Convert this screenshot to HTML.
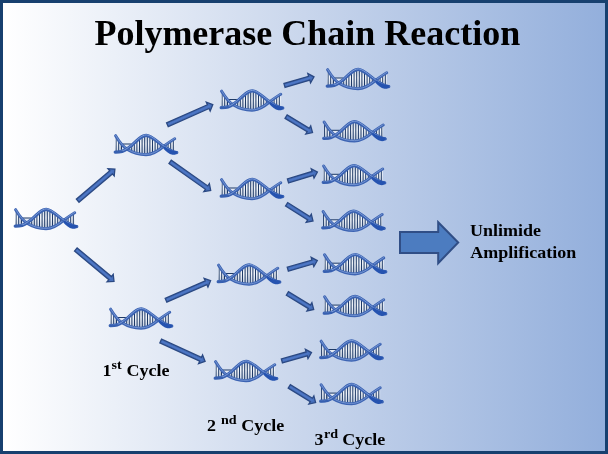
<!DOCTYPE html>
<html><head><meta charset="utf-8"><style>
html,body{margin:0;padding:0;width:608px;height:454px;overflow:hidden;background:#17406f}
svg{display:block;will-change:transform}
</style></head><body>
<svg width="608" height="454" viewBox="0 0 608 454">
<defs>
<linearGradient id="bg" x1="0" y1="0" x2="1" y2="0">
<stop offset="0" stop-color="#ffffff"/><stop offset="0.5" stop-color="#c9d6ec"/><stop offset="1" stop-color="#93afdc"/>
</linearGradient>
<linearGradient id="ag" x1="0" y1="0" x2="0" y2="1">
<stop offset="0" stop-color="#4a70bb"/><stop offset="1" stop-color="#3d62aa"/>
</linearGradient>
<symbol id="dna" viewBox="0 0 64 22" overflow="visible">
<linearGradient id="rg" x1="0" y1="0" x2="0" y2="1"><stop offset="0" stop-color="#cdd8e8"/><stop offset="0.45" stop-color="#f2f5fa"/><stop offset="1" stop-color="#bccadf"/></linearGradient>
<clipPath id="lc"><path d="M1.6,1.7 C4.5,6.5 8.5,12.5 13.5,15.6 C19,19 25,20.7 32,20.7 C38.5,20.7 43.5,17.5 49.5,12.5 C53,9.8 57,6.8 60.7,4.7 L60.7,18.5 C58,18.5 53,14.6 47.5,10.7 C42,6.5 36.5,1.3 32.3,1.3 C28,1.3 23,6.2 17.5,11.5 C16.5,12.3 15,13.3 12.95,14.9 C9.5,17.5 5,18.2 1.2,18.1 Z"/></clipPath>
<g clip-path="url(#lc)"><rect x="0" y="0" width="64" height="22" fill="url(#rg)"/>
<g stroke="#1d3966" stroke-width="1.0"><line x1="2.10" y1="0" x2="2.10" y2="22"/><line x1="4.70" y1="0" x2="4.70" y2="22"/><line x1="7.30" y1="0" x2="7.30" y2="22"/><line x1="9.90" y1="0" x2="9.90" y2="22"/><line x1="12.50" y1="0" x2="12.50" y2="22"/><line x1="15.10" y1="0" x2="15.10" y2="22"/><line x1="17.70" y1="0" x2="17.70" y2="22"/><line x1="20.30" y1="0" x2="20.30" y2="22"/><line x1="22.90" y1="0" x2="22.90" y2="22"/><line x1="25.50" y1="0" x2="25.50" y2="22"/><line x1="28.10" y1="0" x2="28.10" y2="22"/><line x1="30.70" y1="0" x2="30.70" y2="22"/><line x1="33.30" y1="0" x2="33.30" y2="22"/><line x1="35.90" y1="0" x2="35.90" y2="22"/><line x1="38.50" y1="0" x2="38.50" y2="22"/><line x1="41.10" y1="0" x2="41.10" y2="22"/><line x1="43.70" y1="0" x2="43.70" y2="22"/><line x1="46.30" y1="0" x2="46.30" y2="22"/><line x1="48.90" y1="0" x2="48.90" y2="22"/><line x1="51.50" y1="0" x2="51.50" y2="22"/><line x1="54.10" y1="0" x2="54.10" y2="22"/><line x1="56.70" y1="0" x2="56.70" y2="22"/><line x1="59.30" y1="0" x2="59.30" y2="22"/></g></g>
<path d="M7.5,15.5 V11 Q7.5,10 8.7,10 H16.8 Q17.9,10 17.9,11 V13" fill="#e3e9f3" stroke="#1d3966" stroke-width="1.0"/>
<path d="M1.6,1.7 C4.5,6.5 8.5,12.5 13.5,15.6 C19,19 25,20.7 32,20.7 C38.5,20.7 43.5,17.5 49.5,12.5 C53,9.8 57,6.8 60.7,4.7" fill="none" stroke="#3d64b3" stroke-width="3.0" stroke-linecap="round"/>
<path d="M1.6,1.7 C4.5,6.5 8.5,12.5 13.5,15.6 C19,19 25,20.7 32,20.7 C38.5,20.7 43.5,17.5 49.5,12.5 C53,9.8 57,6.8 60.7,4.7" fill="none" stroke="#7898d4" stroke-width="0.9" stroke-linecap="round" transform="translate(0,-0.35)"/>
<path d="M1.2,18.1 C5,18.2 9.5,17.5 12.95,14.9 C15,13.3 16.5,12.3 17.5,11.5 C23,6.2 28,1.3 32.3,1.3 C36.5,1.3 42,6.5 47.5,10.7 C53,14.6 57.5,18.3 62.8,18.7" fill="none" stroke="#3a62b2" stroke-width="3.2" stroke-linecap="round"/>
<path d="M1.2,18.1 C5,18.2 9.5,17.5 12.95,14.9 C15,13.3 16.5,12.3 17.5,11.5 C23,6.2 28,1.3 32.3,1.3 C36.5,1.3 42,6.5 47.5,10.7 C53,14.6 57.5,18.3 62.8,18.7" fill="none" stroke="#7b9bd8" stroke-width="1.0" stroke-linecap="round" transform="translate(0,-0.4)"/>
<path d="M50,12.2 C54,15 58,17 63.6,17.2 C63.4,19.6 61.5,21.2 58.5,20.8 C55,20.2 52,17.5 49.5,14.8 Z" fill="#2553b0"/>
<path d="M1.3,18.1 C4,18.2 6,18 8,17.6" fill="none" stroke="#3760b0" stroke-width="2.0" stroke-linecap="round"/>
</symbol>
</defs>
<rect x="0" y="0" width="608" height="454" fill="#17406f"/>
<rect x="3" y="3" width="602" height="448" fill="url(#bg)"/>
<polygon points="79.03,202.26 112.42,173.90 114.20,176.00 114.90,169.10 107.98,168.68 109.76,170.77 76.37,199.14" fill="#4770bd" stroke="#2b4983" stroke-width="1.3" stroke-linejoin="miter"/><line x1="78.61" y1="199.92" x2="112.23" y2="171.37" stroke="#4f78c6" stroke-width="1.2"/><polygon points="74.49,251.08 108.85,279.68 107.09,281.79 114.00,281.30 113.23,274.41 111.47,276.53 77.11,247.92" fill="#4770bd" stroke="#2b4983" stroke-width="1.3" stroke-linejoin="miter"/><line x1="76.72" y1="250.27" x2="111.31" y2="279.06" stroke="#4f78c6" stroke-width="1.2"/><polygon points="168.23,126.57 209.06,108.50 210.17,111.01 212.80,104.60 206.28,102.24 207.40,104.75 166.57,122.83" fill="#4770bd" stroke="#2b4983" stroke-width="1.3" stroke-linejoin="miter"/><line x1="168.50" y1="124.21" x2="209.60" y2="106.02" stroke="#4f78c6" stroke-width="1.2"/><polygon points="168.92,163.58 205.43,189.30 203.85,191.54 210.70,190.50 209.38,183.70 207.79,185.94 171.28,160.22" fill="#4770bd" stroke="#2b4983" stroke-width="1.3" stroke-linejoin="miter"/><line x1="171.08" y1="162.59" x2="207.84" y2="188.48" stroke="#4f78c6" stroke-width="1.2"/><polygon points="166.82,302.18 206.85,284.59 207.95,287.11 210.60,280.70 204.09,278.32 205.20,280.83 165.18,298.42" fill="#4770bd" stroke="#2b4983" stroke-width="1.3" stroke-linejoin="miter"/><line x1="167.10" y1="299.82" x2="207.40" y2="282.11" stroke="#4f78c6" stroke-width="1.2"/><polygon points="159.84,342.86 199.70,361.18 198.55,363.67 205.10,361.40 202.56,354.95 201.41,357.45 161.56,339.14" fill="#4770bd" stroke="#2b4983" stroke-width="1.3" stroke-linejoin="miter"/><line x1="161.79" y1="341.50" x2="201.92" y2="359.94" stroke="#4f78c6" stroke-width="1.2"/><polygon points="285.08,87.47 309.78,80.18 310.56,82.82 314.00,76.80 307.85,73.61 308.62,76.25 283.92,83.53" fill="#4770bd" stroke="#2b4983" stroke-width="1.3" stroke-linejoin="miter"/><line x1="285.65" y1="85.16" x2="310.64" y2="77.79" stroke="#4f78c6" stroke-width="1.2"/><polygon points="285.04,118.35 307.16,131.76 305.74,134.11 312.50,132.60 310.71,125.90 309.29,128.26 287.16,114.85" fill="#4770bd" stroke="#2b4983" stroke-width="1.3" stroke-linejoin="miter"/><line x1="287.13" y1="117.22" x2="309.51" y2="130.79" stroke="#4f78c6" stroke-width="1.2"/><polygon points="288.59,182.86 313.21,175.41 314.01,178.04 317.40,172.00 311.22,168.85 312.02,171.49 287.41,178.94" fill="#4770bd" stroke="#2b4983" stroke-width="1.3" stroke-linejoin="miter"/><line x1="289.15" y1="180.55" x2="314.05" y2="173.01" stroke="#4f78c6" stroke-width="1.2"/><polygon points="285.51,206.04 307.68,219.97 306.21,222.30 313.00,220.90 311.32,214.18 309.86,216.50 287.69,202.56" fill="#4770bd" stroke="#2b4983" stroke-width="1.3" stroke-linejoin="miter"/><line x1="287.62" y1="204.94" x2="310.04" y2="219.04" stroke="#4f78c6" stroke-width="1.2"/><polygon points="288.37,271.17 313.07,263.97 313.84,266.61 317.30,260.60 311.16,257.39 311.93,260.03 287.23,267.23" fill="#4770bd" stroke="#2b4983" stroke-width="1.3" stroke-linejoin="miter"/><line x1="288.95" y1="268.86" x2="313.94" y2="261.58" stroke="#4f78c6" stroke-width="1.2"/><polygon points="286.34,295.25 308.36,308.57 306.94,310.92 313.70,309.40 311.90,302.71 310.48,305.06 288.46,291.75" fill="#4770bd" stroke="#2b4983" stroke-width="1.3" stroke-linejoin="miter"/><line x1="288.43" y1="294.12" x2="310.70" y2="307.59" stroke="#4f78c6" stroke-width="1.2"/><polygon points="282.45,362.87 307.24,355.92 307.98,358.57 311.50,352.60 305.39,349.33 306.13,351.98 281.35,358.93" fill="#4770bd" stroke="#2b4983" stroke-width="1.3" stroke-linejoin="miter"/><line x1="283.06" y1="360.58" x2="308.13" y2="353.54" stroke="#4f78c6" stroke-width="1.2"/><polygon points="288.22,388.15 310.27,401.72 308.83,404.06 315.60,402.60 313.86,395.89 312.42,398.23 290.38,384.65" fill="#4770bd" stroke="#2b4983" stroke-width="1.3" stroke-linejoin="miter"/><line x1="290.32" y1="387.03" x2="312.62" y2="400.76" stroke="#4f78c6" stroke-width="1.2"/>
<use href="#dna" x="14.00" y="208.00" width="64" height="22"/><use href="#dna" x="114.00" y="134.00" width="64" height="22"/><use href="#dna" x="109.00" y="307.50" width="64" height="22"/><use href="#dna" x="220.00" y="89.50" width="64" height="22"/><use href="#dna" x="220.00" y="178.00" width="64" height="22"/><use href="#dna" x="217.00" y="263.50" width="64" height="22"/><use href="#dna" x="214.00" y="360.00" width="64" height="22"/><use href="#dna" x="326.00" y="68.00" width="64" height="22"/><use href="#dna" x="322.50" y="120.30" width="64" height="22"/><use href="#dna" x="322.00" y="164.30" width="64" height="22"/><use href="#dna" x="321.50" y="209.80" width="64" height="22"/><use href="#dna" x="323.00" y="253.20" width="64" height="22"/><use href="#dna" x="323.00" y="295.10" width="64" height="22"/><use href="#dna" x="319.50" y="339.50" width="64" height="22"/><use href="#dna" x="319.50" y="383.10" width="64" height="22"/>
<polygon points="400,232 438.2,232 438.2,222.3 458.2,242.5 438.2,263.2 438.2,253 400,253" fill="#4c7cc0" stroke="#304e86" stroke-width="2"/>

<text x="94.4" y="45" font-size="36" font-family="Liberation Serif, serif" font-weight="bold" fill="#000">Polymerase Chain Reaction</text>
<text transform="translate(469.95,236.00) scale(1.060,1)" font-size="17.00" font-family="Liberation Serif, serif" font-weight="bold" fill="#000">Unlimide</text>
<text transform="translate(470.30,258.00) scale(1.060,1)" font-size="17.00" font-family="Liberation Serif, serif" font-weight="bold" fill="#000">Amplification</text>
<text transform="translate(102.40,376.00) scale(1.060,1)" font-size="17.00" font-family="Liberation Serif, serif" font-weight="bold" fill="#000">1</text><text transform="translate(111.60,369.00) scale(1.060,1)" font-size="13.30" font-family="Liberation Serif, serif" font-weight="bold" fill="#000">st</text><text transform="translate(126.60,376.00) scale(1.060,1)" font-size="17.00" font-family="Liberation Serif, serif" font-weight="bold" fill="#000">Cycle</text>
<text transform="translate(206.95,431.00) scale(1.060,1)" font-size="17.00" font-family="Liberation Serif, serif" font-weight="bold" fill="#000">2</text><text transform="translate(221.00,424.00) scale(1.060,1)" font-size="13.30" font-family="Liberation Serif, serif" font-weight="bold" fill="#000">nd</text><text transform="translate(241.30,431.00) scale(1.060,1)" font-size="17.00" font-family="Liberation Serif, serif" font-weight="bold" fill="#000">Cycle</text>
<text transform="translate(314.50,445.00) scale(1.060,1)" font-size="17.00" font-family="Liberation Serif, serif" font-weight="bold" fill="#000">3</text><text transform="translate(324.10,438.00) scale(1.060,1)" font-size="13.30" font-family="Liberation Serif, serif" font-weight="bold" fill="#000">rd</text><text transform="translate(342.30,445.00) scale(1.060,1)" font-size="17.00" font-family="Liberation Serif, serif" font-weight="bold" fill="#000">Cycle</text>

</svg>
</body></html>
